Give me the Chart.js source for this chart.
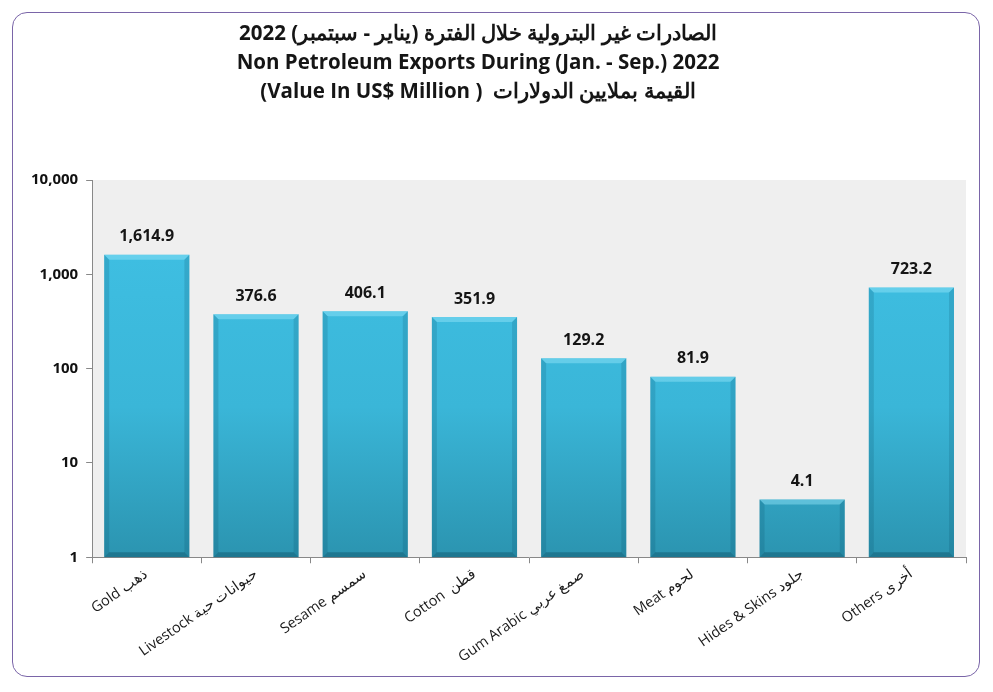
<!DOCTYPE html>
<html>
<head>
<meta charset="utf-8">
<script src="https://cdn.jsdelivr.net/npm/chart.js@4/dist/chart.umd.min.js"></script>
<style>
  html, body { margin: 0; padding: 0; background: #fff; }
  #wrap { position: relative; width: 993px; height: 692px; }
  #frame {
    position: absolute; left: 12px; top: 12px; width: 968px; height: 665px;
    border: 1.5px solid #7a65a8; border-radius: 15px; box-sizing: border-box;
  }
  #titulo {
    position: absolute; left: 158px; width: 640px; top: 18px; text-align: center;
    font-family: 'Open Sans', sans-serif; font-weight: 700; font-size: 20.5px; line-height: 29px; color: #151515;
  }
  canvas { position: absolute; left: 0; top: 0; }
</style>
</head>
<body>
<div id="wrap">
  <div id="frame"></div>
  <canvas id="grafico" width="993" height="692"></canvas>
  <div id="titulo">
    <div dir="rtl">الصادرات غير البترولية خلال الفترة (يناير - سبتمبر) 2022</div>
    <div>Non Petroleum Exports During (Jan. - Sep.) 2022</div>
    <div>(Value In US$ Million )&nbsp; <span dir="rtl">القيمة بملايين الدولارات</span></div>
  </div>
</div>
<script>
// Datos
const CATEGORIAS = ['Gold ذهب', 'Livestock حيوانات حية', 'Sesame سمسم', 'Cotton  قطن', 'Gum Arabic صمغ عربي', 'Meat لحوم', 'Hides & Skins جلود', 'Others أخرى'];
const VALORES = [1614.9, 376.6, 406.1, 351.9, 129.2, 81.9, 4.1, 723.2];
const TICKS_Y = [1, 10, 100, 1000, 10000];

const FUENTE = "'Open Sans', sans-serif";

function fmtValor(v) {
  return Number(v).toLocaleString('en-US', { minimumFractionDigits: 1, maximumFractionDigits: 1 });
}

// Fondo gris del área de trazado
const fondoPlot = {
  id: 'fondoPlot',
  beforeDraw(chart) {
    const { ctx, chartArea: a } = chart;
    ctx.save();
    ctx.fillStyle = '#efefef';
    ctx.fillRect(a.left, a.top, a.right - a.left, a.bottom - a.top);
    ctx.restore();
  },
};

// Bisel de las barras + etiquetas de valor
const biselYEtiquetas = {
  id: 'biselYEtiquetas',
  afterDatasetsDraw(chart) {
    const { ctx } = chart;
    const meta = chart.getDatasetMeta(0);
    ctx.save();
    meta.data.forEach((bar, i) => {
      const x0 = bar.x - bar.width / 2, x1 = bar.x + bar.width / 2;
      const y0 = bar.y, y1 = bar.base;
      const b = 5;
      // franja superior clara
      ctx.fillStyle = 'rgba(150,230,250,0.45)';
      ctx.beginPath();
      ctx.moveTo(x0, y0); ctx.lineTo(x1, y0); ctx.lineTo(x1 - b, y0 + b); ctx.lineTo(x0 + b, y0 + b); ctx.closePath();
      ctx.fill();
      // laterales
      ctx.fillStyle = 'rgba(0,60,90,0.16)';
      ctx.beginPath();
      ctx.moveTo(x0, y0); ctx.lineTo(x0 + b, y0 + b); ctx.lineTo(x0 + b, y1 - b); ctx.lineTo(x0, y1); ctx.closePath();
      ctx.fill();
      ctx.beginPath();
      ctx.moveTo(x1, y0); ctx.lineTo(x1 - b, y0 + b); ctx.lineTo(x1 - b, y1 - b); ctx.lineTo(x1, y1); ctx.closePath();
      ctx.fill();
      // inferior
      ctx.fillStyle = 'rgba(0,50,70,0.3)';
      ctx.beginPath();
      ctx.moveTo(x0, y1); ctx.lineTo(x0 + b, y1 - b); ctx.lineTo(x1 - b, y1 - b); ctx.lineTo(x1, y1); ctx.closePath();
      ctx.fill();
      // etiqueta
      ctx.fillStyle = '#151515';
      ctx.font = `bold 16px ${FUENTE}`;
      ctx.textAlign = 'center';
      ctx.textBaseline = 'bottom';
      ctx.fillText(fmtValor(VALORES[i]), bar.x, y0 - 10);
    });
    ctx.restore();
  },
};

function gradienteBarra(ctx) {
  const chart = ctx.chart;
  const a = chart.chartArea;
  if (!a) return '#3dbde0';
  const g = chart.ctx.createLinearGradient(0, a.top, 0, a.bottom);
  g.addColorStop(0, '#40c2e6');
  g.addColorStop(0.6, '#3ab6d8');
  g.addColorStop(1, '#2b94b0');
  return g;
}

new Chart(document.getElementById('grafico'), {
  type: 'bar',
  data: {
    labels: CATEGORIAS,
    datasets: [{
      data: VALORES,
      backgroundColor: gradienteBarra,
      borderWidth: 0,
      categoryPercentage: 0.78,
      barPercentage: 1,
    }],
  },
  options: {
    responsive: false,
    animation: false,
    layout: { padding: { top: 180, left: 23, right: 27, bottom: 24 } },
    plugins: { legend: { display: false }, tooltip: { enabled: false } },
    scales: {
      x: {
        grid: { display: true, drawOnChartArea: false, color: '#888', tickLength: 6, offset: true },
        border: { color: '#888' },
        ticks: {
          color: '#1a1a1a', font: { family: FUENTE, size: 14.5 },
          minRotation: 35, maxRotation: 35, padding: 2,
        },
      },
      y: {
        type: 'logarithmic', min: 1, max: 10000,
        afterBuildTicks: (axis) => { axis.ticks = TICKS_Y.map((v) => ({ value: v })); },
        grid: { display: true, drawOnChartArea: false, color: '#888', tickLength: 6 },
        border: { color: '#888' },
        ticks: {
          color: '#111', font: { family: FUENTE, size: 15, weight: 'bold' }, padding: 8,
          callback: (v) => Number(v).toLocaleString('en-US'),
        },
      },
    },
  },
  plugins: [fondoPlot, biselYEtiquetas],
});
</script>
</body>
</html>
